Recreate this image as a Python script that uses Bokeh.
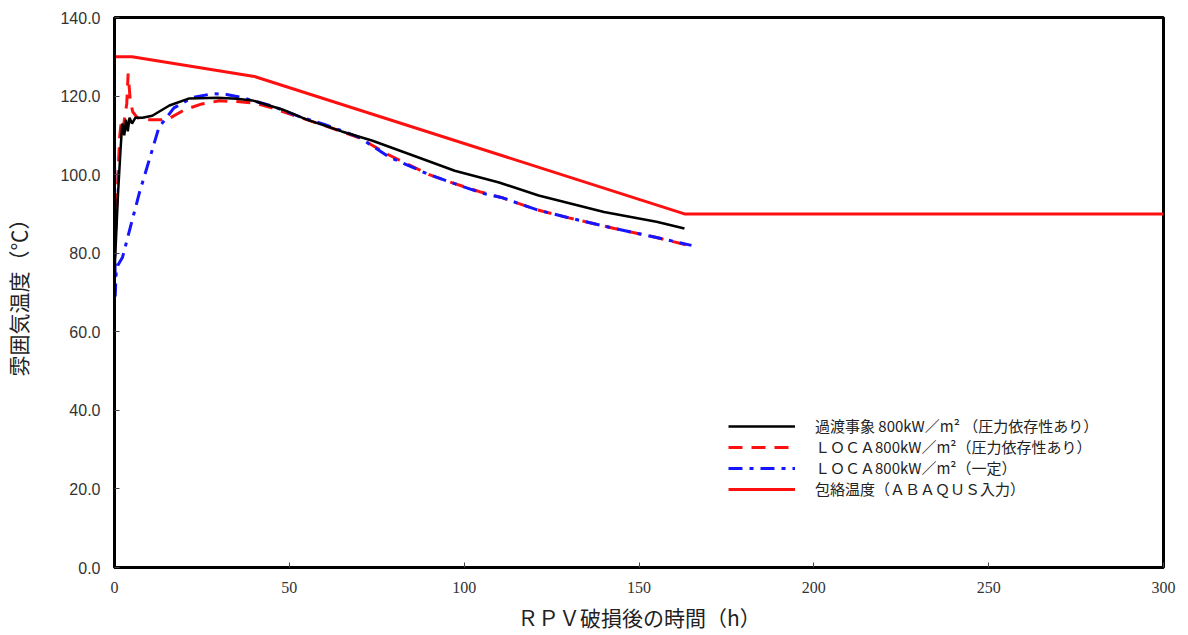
from bokeh.plotting import figure
from bokeh.embed import file_html
from bokeh.resources import INLINE
from bokeh.models import FixedTicker, PrintfTickFormatter, Range1d, Legend, LegendItem

# ---- data ----
env_x = [0, 5, 40, 163, 300]
env_y = [130, 130, 125, 90, 90]

trans_x = [0, 0.3, 1.0, 1.7, 2.2, 2.8, 3.3, 3.8, 4.3, 5, 6, 8, 10.8, 15.7, 21.4, 29.5, 35, 39.4,
           48, 55, 65, 73.6, 85, 97.3, 110, 121.3, 140, 155, 163]
trans_y = [75, 81, 95, 106, 113, 110, 114, 111, 114.5, 113, 114.5, 114.5, 115, 117.6, 119.4, 119.6,
           119.3, 118.9, 116.6, 114, 111, 108.7, 105, 101, 98, 94.7, 90.5, 88, 86.3]

locap_x = [0, 0.5, 1.0, 1.5, 2.0, 2.5, 3.0, 3.5, 3.9, 4.5, 5.2, 6.5, 9, 15, 20, 25, 30, 35, 40, 45,
           50, 60, 70, 78.5, 90, 97.3, 105, 110.6, 121, 130, 143, 155, 165]
locap_y = [80, 88, 100, 110, 114, 112, 115, 118, 125.7, 119, 116, 114.5, 114, 114, 116.5, 118,
           118.8, 118.6, 118.2, 117, 115.5, 112.5, 109.4, 105, 100, 97.7, 95.5, 94.2, 91, 89,
           86.3, 84, 81.8]

locac_x = [0, 0.2, 0.5, 1.0, 2.3, 7, 12.7, 17, 22.3, 28, 32, 36.5, 45, 53.7, 60, 70, 78.5, 90,
           97.3, 105, 110.6, 121, 130, 143, 155, 165]
locac_y = [110, 69, 75.6, 77, 79, 95, 112, 117, 119.6, 120.6, 120.4, 119.6, 117.5, 114.5, 112.8,
           109.5, 104.5, 100, 97.7, 95.3, 94.2, 91, 89, 86.3, 84, 82]

x_ticks = [0, 50, 100, 150, 200, 250, 300]
y_ticks = [0, 20, 40, 60, 80, 100, 120, 140]

labels = ["過渡事象 800kW／m² （圧力依存性あり）",
          "ＬＯＣＡ800kW／m²（圧力依存性あり）",
          "ＬＯＣＡ800kW／m²（一定）",
          "包絡温度（ＡＢＡＱＵＳ入力）"]

# ---- figure ----
p = figure(width=1188, height=634, output_backend="svg", toolbar_location=None,
           x_range=Range1d(0, 300), y_range=Range1d(0, 140),
           min_border_left=112, min_border_right=25, min_border_top=17, min_border_bottom=67)
p.background_fill_color = "white"
p.border_fill_color = "white"
p.outline_line_color = "black"
p.outline_line_width = 3
p.xgrid.visible = False
p.ygrid.visible = False

for ax in (p.xaxis[0], p.yaxis[0]):
    ax.axis_line_width = 3
    ax.axis_line_color = "black"
    ax.major_tick_in = 5
    ax.major_tick_out = 0
    ax.minor_tick_line_color = None
    ax.major_tick_line_color = "#444444"
    ax.major_label_text_font_size = "16px"
    ax.major_label_text_color = "#333333"
    ax.axis_label_text_font = "Noto Sans CJK JP"
    ax.axis_label_text_font_size = "21px"
    ax.axis_label_text_font_style = "normal"
    ax.axis_label_text_color = "#222222"

p.yaxis.major_label_text_font = "Liberation Sans"
p.xaxis.major_label_text_font = "Liberation Sans Narrow"
p.xaxis.ticker = FixedTicker(ticks=x_ticks)
p.yaxis.ticker = FixedTicker(ticks=y_ticks)
p.yaxis.formatter = PrintfTickFormatter(format="%.1f")
p.xaxis.major_label_standoff = 14
p.yaxis.major_label_standoff = 14
p.xaxis.axis_label = "ＲＰＶ破損後の時間（h）"
p.yaxis.axis_label = "雰囲気温度（℃）"
p.xaxis.axis_label_standoff = 6
p.yaxis.axis_label_standoff = 24

r_env = p.line(env_x, env_y, line_color="#ff1010", line_width=3)
r_lp = p.line(locap_x, locap_y, line_color="#ff1010", line_width=3, line_dash="14 9")
r_lc = p.line(locac_x, locac_y, line_color="#1515ff", line_width=3, line_dash="14 7 4 7")
r_tr = p.line(trans_x, trans_y, line_color="black", line_width=2.5)

legend = Legend(items=[LegendItem(label=labels[0], renderers=[r_tr]),
                       LegendItem(label=labels[1], renderers=[r_lp]),
                       LegendItem(label=labels[2], renderers=[r_lc]),
                       LegendItem(label=labels[3], renderers=[r_env])],
                location=(614, 68), border_line_color=None, background_fill_alpha=0,
                glyph_width=67, glyph_height=16, label_standoff=20, spacing=0,
                padding=5, margin=0, label_height=16,
                label_text_font="Noto Sans CJK JP", label_text_font_size="15px",
                label_text_line_height=1.0,
                label_text_color="#222222")
p.add_layout(legend, "center")

open("out.html", "w").write(file_html(p, INLINE))
